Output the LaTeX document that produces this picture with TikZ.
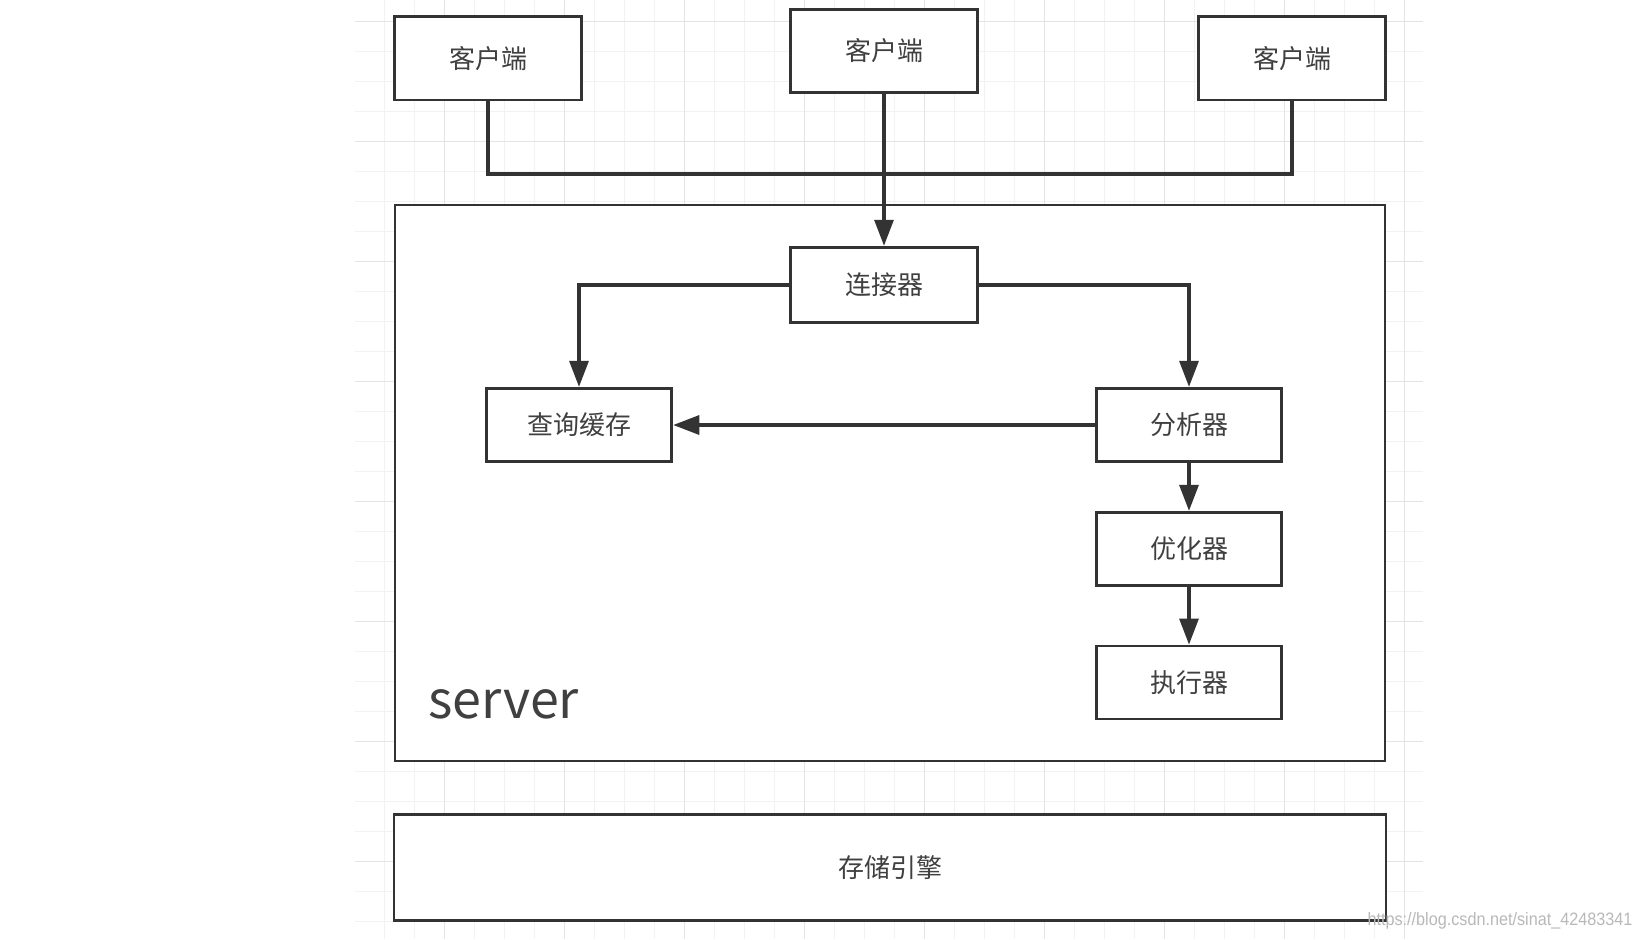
\documentclass[tikz,border=0pt]{standalone}
\usepackage{fontspec}
\setmainfont{Noto Sans CJK SC}
\newfontfamily\wmfont[FakeStretch=0.9]{Liberation Sans}
\usetikzlibrary{arrows.meta}

\begin{document}
\begin{tikzpicture}[x=0.5pt,y=-0.5pt,
  box/.style={draw=cLine,line width=1.45pt,fill=white,text=cText,
    font=\fontsize{13}{15}\selectfont,inner sep=0pt},
  link/.style={cLine,line width=1.6pt},
  flow/.style={link,-{Triangle[length=13pt,width=9.5pt]}},
  gridline/.style={cGrid,line width=0.5pt}]
  \definecolor{cLine}{RGB}{51,51,51}
  \definecolor{cText}{RGB}{64,64,64}
  \definecolor{cGrid}{RGB}{242,242,242}
  \definecolor{cGridMajor}{RGB}{228,228,228}
  \definecolor{cMark}{RGB}{185,185,185}

  \useasboundingbox (0,0) rectangle (1635,939);
  \fill[white] (0,0) rectangle (1635,939);

  % background grid
  \foreach \gx in {384,414,...,1404}
    \draw[gridline] (\gx,0) -- (\gx,939);
  \foreach \gy in {21.7,51.7,...,921.7}
    \draw[gridline] (355,\gy) -- (1423,\gy);
  \foreach \gx in {444,564,...,1404}
    \draw[gridline,cGridMajor] (\gx,0) -- (\gx,939);
  \foreach \gy in {21.7,141.7,...,861.7}
    \draw[gridline,cGridMajor] (355,\gy) -- (1423,\gy);

  % clients
  \node[box,minimum width=93.5pt,minimum height=41.7pt] (client1) at (488,58.3) {客户端};
  \node[box,minimum width=93.3pt,minimum height=41.8pt] (client2) at (884,51) {客户端};
  \node[box,minimum width=93.2pt,minimum height=41.7pt] (client3) at (1292,58.3) {客户端};

  % server frame
  \node[box,minimum width=495pt,minimum height=278pt] (server) at (890,483) {};
  \node[text=cText,anchor=base west,inner sep=0pt,font=\fontsize{26}{28}\selectfont]
    (srvlabel) at (428,718) {server};

  % server parts
  \node[box,minimum width=93.3pt,minimum height=37.8pt] (connector) at (884,285) {连接器};
  \node[box,minimum width=92.8pt,minimum height=36.7pt] (cache) at (579,425) {查询缓存};
  \node[box,minimum width=92.6pt,minimum height=36.7pt] (parser) at (1189,425) {分析器};
  \node[box,minimum width=92.6pt,minimum height=36.7pt] (optimizer) at (1189,549) {优化器};
  \node[box,minimum width=92.6pt,minimum height=36.5pt] (executor) at (1189,682.5) {执行器};

  % storage engine
  \node[box,minimum width=496pt,minimum height=53.3pt] (storage) at (890,867.5) {存储引擎};

  % client bus
  \coordinate (bus) at (884,174);
  \draw[link] (client1.south) |- (bus) -| (client3.south);
  \draw[flow] (client2.south) -- (connector.north);

  % flow inside server
  \draw[flow] (connector.west) -| (cache.north);
  \draw[flow] (connector.east) -| (parser.north);
  \draw[flow] (parser.west) -- (cache.east);
  \draw[flow] (parser.south) -- (optimizer.north);
  \draw[flow] (optimizer.south) -- (executor.north);

  % watermark
  \node[text=cMark,font=\wmfont\fontsize{9}{10}\selectfont,inner sep=0pt]
    (mark) at (1500,921) {https://blog.csdn.net/sinat\_42483341};
\end{tikzpicture}
\end{document}
